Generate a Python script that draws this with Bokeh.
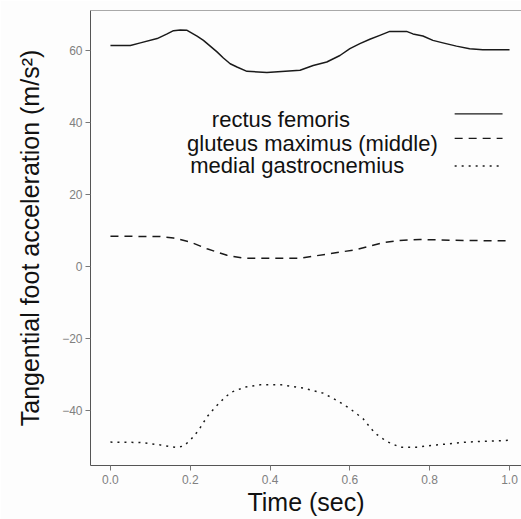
from bokeh.plotting import figure
from bokeh.models import Label, FixedTicker, PrintfTickFormatter, Span, Range1d
from bokeh.embed import file_html
from bokeh.resources import INLINE

# --- data ---
rf_t = [0, 0.05, 0.075, 0.117, 0.142, 0.158, 0.175, 0.192, 0.217, 0.233, 0.267, 0.283, 0.3, 0.317, 0.342,
        0.392, 0.475, 0.508, 0.542, 0.575, 0.6, 0.625, 0.65, 0.675, 0.7, 0.717, 0.742, 0.758, 0.783, 0.808,
        0.833, 0.867, 0.9, 0.933, 1.0]
rf_a = [61.4, 61.4, 62.1, 63.3, 64.6, 65.5, 65.7, 65.6, 64.0, 62.8, 59.6, 57.9, 56.3, 55.4, 54.2,
        53.9, 54.5, 55.8, 56.8, 58.6, 60.5, 61.9, 63.1, 64.2, 65.3, 65.3, 65.3, 64.6, 64.0, 62.8,
        62.1, 61.2, 60.5, 60.2, 60.2]

gm_t = [0, 0.125, 0.158, 0.2, 0.242, 0.292, 0.333, 0.475, 0.542, 0.617, 0.683, 0.725, 0.775, 0.808, 0.9, 1.0]
gm_a = [8.4, 8.3, 7.9, 6.8, 4.9, 3.1, 2.3, 2.3, 3.4, 4.7, 6.6, 7.2, 7.5, 7.4, 7.2, 7.1]

mg_t = [0, 0.075, 0.125, 0.165, 0.183, 0.2, 0.221, 0.242, 0.2625, 0.2875, 0.304, 0.3375, 0.375, 0.429, 0.483,
        0.533, 0.567, 0.6, 0.633, 0.6625, 0.692, 0.725, 0.767, 0.817, 0.892, 1.0]
mg_a = [-48.8, -48.9, -49.6, -50.3, -49.9, -48.3, -45.5, -41.8, -39.1, -36.3, -34.9, -33.5, -32.9, -32.9, -33.8,
        -35.2, -37.2, -39.5, -42.3, -46.3, -48.6, -50.2, -50.2, -49.6, -48.8, -48.3]

series_names = ["rectus femoris", "gluteus maximus (middle)", "medial gastrocnemius"]
x_ticks = [0.0, 0.2, 0.4, 0.6, 0.8, 1.0]
y_ticks = [-40, -20, 0, 20, 40, 60]

FONT = "Liberation Sans"
INK = "#1a1a1a"

p = figure(width=521, height=519, output_backend="svg", toolbar_location=None,
           x_range=Range1d(-0.05, 1.03), y_range=Range1d(-55.3, 71.1),
           min_border_left=90, min_border_right=0, min_border_top=10, min_border_bottom=54,
           background_fill_color="#fdfdfd", border_fill_color="#fdfdfd")
p.grid.visible = False
p.outline_line_color = None
p.add_layout(Span(location=71.1, dimension="width", line_color="#555555", line_width=1))

styles = [dict(line_dash="solid"), dict(line_dash="8 6"), dict(line_dash="2 5")]
for t, a, st in zip([rf_t, gm_t, mg_t], [rf_a, gm_a, mg_a], styles):
    p.line(t, a, line_color=INK, line_width=1.5, line_join="round", **st)

# custom legend (text left, line sample right)
leg_text_pos = [(0.254, 40.8), (0.192, 34.25), (0.2, 28.05)]
leg_line_y = [42.4, 35.6, 27.9]
for name, (tx, ty), ly, st in zip(series_names, leg_text_pos, leg_line_y, styles):
    p.add_layout(Label(x=tx, y=ty, text=name, text_font=FONT, text_font_size="22px",
                       text_color="#111111", text_baseline="alphabetic", text_align="left"))
    p.line([0.8625, 0.9825], [ly, ly], line_color=INK, line_width=1.3, **st)

for ax in (p.xaxis[0], p.yaxis[0]):
    ax.axis_line_color = "#555555"
    ax.major_tick_line_color = "#777777"
    ax.minor_tick_line_color = None
    ax.major_tick_in = 0
    ax.major_tick_out = 5
    ax.major_label_text_font = FONT
    ax.major_label_text_font_size = "12px"
    ax.major_label_text_color = "#808080"
    ax.axis_label_text_font = FONT
    ax.axis_label_text_font_style = "normal"
    ax.axis_label_text_color = "#111111"
    ax.axis_label_text_font_size = "25px"

p.xaxis.ticker = FixedTicker(ticks=x_ticks)
p.xaxis.formatter = PrintfTickFormatter(format="%.1f")
p.yaxis.ticker = FixedTicker(ticks=y_ticks)
p.xaxis.axis_label = "Time (sec)"
p.yaxis.axis_label = "Tangential foot acceleration (m/s²)"
p.xaxis.axis_label_standoff = 1
p.yaxis.axis_label_standoff = 15
p.xaxis.major_label_standoff = 4
p.yaxis.major_label_standoff = 3

open("out.html", "w").write(file_html(p, INLINE))
